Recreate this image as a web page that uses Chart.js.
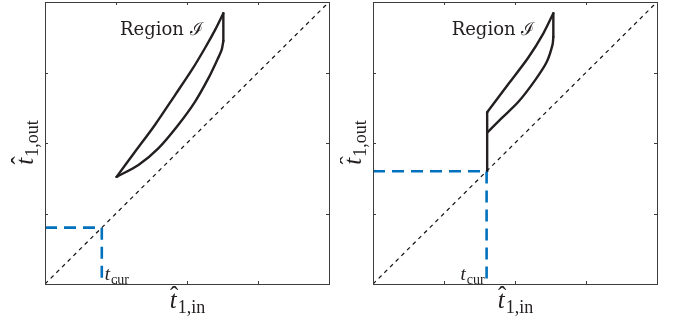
<!DOCTYPE html>
<html>
<head>
<meta charset="UTF-8">
<script src="https://cdn.jsdelivr.net/npm/chart.js"></script>
<style>
  html, body { margin: 0; padding: 0; background: #fff; }
  body { width: 673px; height: 326px; position: relative; overflow: hidden; }
  .panel { position: absolute; top: 0; height: 326px; }
</style>
</head>
<body>
<div class="panel" style="left:0;width:340px"><canvas id="left" width="340" height="326"></canvas></div>
<div class="panel" style="left:340px;width:333px"><canvas id="right" width="333" height="326"></canvas></div>
<script>
// axis ticks (no labels in the figure) and the identity line
const tickValues = [0, 0.25, 0.5, 0.75, 1];
const diagonalX = [0, 1];
const diagonalY = [0, 1];

// left panel: current time and the boundary of region I, edge by edge
const leftTcur = 0.2;
const leftUpperX = [0.252, 0.317, 0.387, 0.458, 0.517, 0.563, 0.599, 0.628];
const leftUpperY = [0.380, 0.469, 0.564, 0.670, 0.759, 0.836, 0.901, 0.960];
const leftSideX = [0.628, 0.628];
const leftSideY = [0.960, 0.862];
const leftLowerX = [0.628, 0.622, 0.608, 0.575, 0.528, 0.469, 0.399, 0.329, 0.252];
const leftLowerY = [0.862, 0.830, 0.798, 0.729, 0.646, 0.564, 0.481, 0.422, 0.380];

// right panel
const rightTcur = 0.4;
const rightStemX = [0.402, 0.402];
const rightStemY = [0.400, 0.609];
const rightUpperX = [0.402, 0.476, 0.547, 0.600, 0.635];
const rightUpperY = [0.609, 0.708, 0.803, 0.889, 0.960];
const rightSideX = [0.635, 0.635];
const rightSideY = [0.960, 0.877];
const rightLowerX = [0.635, 0.632, 0.612, 0.571, 0.512, 0.453, 0.402];
const rightLowerY = [0.877, 0.848, 0.788, 0.723, 0.646, 0.588, 0.537];

const INK = '#231f20';
const SERIF = '"Liberation Serif", "DejaVu Serif", serif';

const toPoints = (xs, ys) => xs.map((x, i) => ({ x, y: ys[i] }));
const edge = (xs, ys, tension) => ({
  data: toPoints(xs, ys), borderColor: INK, borderWidth: 2.4,
  borderJoinStyle: 'round', borderCapStyle: 'round', tension
});

// italic symbol with an upright subscript, optional hat
function drawMath(ctx, x, y, main, sub, size, subSize, hat, align) {
  ctx.font = `italic ${size}px ${SERIF}`;
  const wMain = ctx.measureText(main).width;
  ctx.font = `${subSize}px ${SERIF}`;
  const wSub = ctx.measureText(sub).width;
  let x0 = x;
  if (align === 'center') x0 = x - (wMain + wSub) / 2;
  if (align === 'right') x0 = x - (wMain + wSub + 1);
  ctx.textAlign = 'left';
  ctx.textBaseline = 'alphabetic';
  ctx.font = `italic ${size}px ${SERIF}`;
  ctx.fillText(main, x0, y);
  if (hat) {
    ctx.font = `${size}px ${SERIF}`;
    ctx.textAlign = 'center';
    ctx.fillText('\u02C6', x0 + wMain * 0.62, y - size * 0.18);
    ctx.textAlign = 'left';
  }
  ctx.font = `${subSize}px ${SERIF}`;
  ctx.fillText(sub, x0 + wMain + 1, y + subSize * 0.3);
}

const framePlugin = {
  id: 'frame',
  afterDatasetsDraw(chart, args, opts) {
    const { ctx, chartArea: a, scales } = chart;
    ctx.save();
    ctx.strokeStyle = '#3c3c3c';
    ctx.lineWidth = 1;
    ctx.strokeRect(Math.round(a.left) + 0.5, Math.round(a.top) + 0.5,
      Math.round(a.right - a.left), Math.round(a.bottom - a.top));
    ctx.beginPath();
    tickValues.forEach(v => {
      const px = Math.round(scales.x.getPixelForValue(v)) + 0.5;
      const py = Math.round(scales.y.getPixelForValue(v)) + 0.5;
      ctx.moveTo(px, a.bottom); ctx.lineTo(px, a.bottom - 3);
      ctx.moveTo(px, a.top); ctx.lineTo(px, a.top + 3);
      ctx.moveTo(a.left, py); ctx.lineTo(a.left + 3, py);
      ctx.moveTo(a.right, py); ctx.lineTo(a.right - 3, py);
    });
    ctx.stroke();

    ctx.fillStyle = INK;
    // Region label
    ctx.font = `18px "DejaVu Serif", serif`;
    ctx.textAlign = 'left';
    ctx.textBaseline = 'alphabetic';
    ctx.fillText('Region \u2110', scales.x.getPixelForValue(opts.regionX), scales.y.getPixelForValue(opts.regionY));

    // t_cur label next to the blue guide
    const tx = scales.x.getPixelForValue(opts.tcur);
    if (opts.tcurSide === 'right') drawMath(ctx, tx + 3, a.bottom - 4, 't', 'cur', 19, 14, false, 'left');
    else drawMath(ctx, tx - 2, a.bottom - 4, 't', 'cur', 19, 14, false, 'right');

    // axis titles
    const cx = (a.left + a.right) / 2;
    drawMath(ctx, cx, a.bottom + 24, 't', '1,in', 25, 18, true, 'center');
    ctx.save();
    ctx.translate(a.left - 12, (a.top + a.bottom) / 2);
    ctx.rotate(-Math.PI / 2);
    drawMath(ctx, 0, 0, 't', '1,out', 25, 18, true, 'center');
    ctx.restore();
    ctx.restore();
  }
};

function makeChart(id, edges, tcur, pad, labels) {
  return new Chart(document.getElementById(id), {
    type: 'scatter',
    data: {
      datasets: [
        { data: toPoints(diagonalX, diagonalY), borderColor: '#111', borderWidth: 1.2, borderDash: [4, 4] },
        { data: [{ x: 0, y: tcur }, { x: tcur, y: tcur }, { x: tcur, y: 0 }], borderColor: '#0072bd', borderWidth: 2.6, borderDash: [12, 7] },
        ...edges
      ]
    },
    options: {
      responsive: false,
      animation: false,
      devicePixelRatio: 1,
      layout: { padding: pad },
      elements: { point: { radius: 0 } },
      datasets: { scatter: { showLine: true, pointRadius: 0 } },
      scales: {
        x: { type: 'linear', min: 0, max: 1, display: false },
        y: { type: 'linear', min: 0, max: 1, display: false }
      },
      plugins: { legend: { display: false }, tooltip: { enabled: false }, frame: labels }
    },
    plugins: [framePlugin]
  });
}

makeChart('left', [
    edge(leftUpperX, leftUpperY, 0.3),
    edge(leftSideX, leftSideY, 0),
    edge(leftLowerX, leftLowerY, 0.3)
  ], leftTcur,
  { left: 45, right: 11, top: 2, bottom: 42 },
  { regionX: 0.264, regionY: 0.883, tcur: leftTcur, tcurSide: 'right' });

makeChart('right', [
    edge(rightStemX, rightStemY, 0),
    edge(rightUpperX, rightUpperY, 0.3),
    edge(rightSideX, rightSideY, 0),
    edge(rightLowerX, rightLowerY, 0.3)
  ], rightTcur,
  { left: 33, right: 16, top: 2, bottom: 42 },
  { regionX: 0.277, regionY: 0.883, tcur: rightTcur, tcurSide: 'left' });
</script>
</body>
</html>
